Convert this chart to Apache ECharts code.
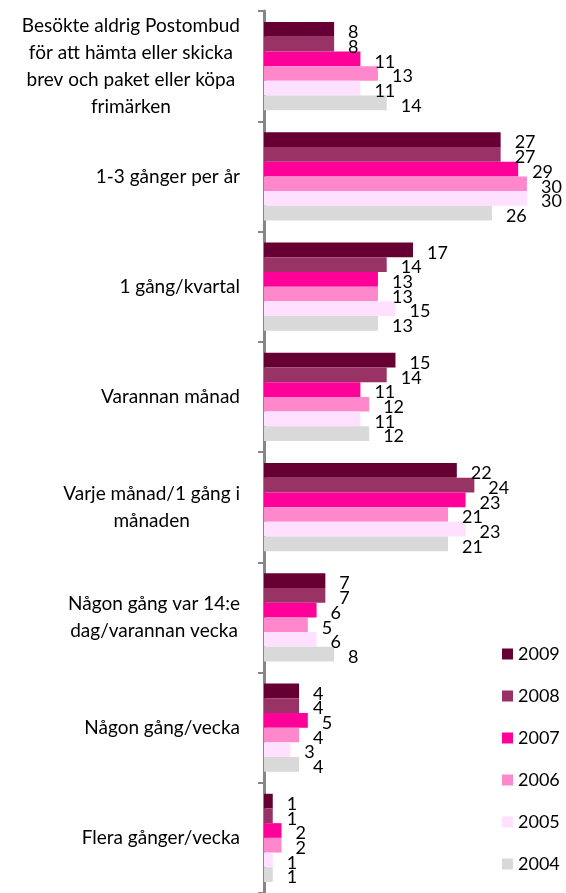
<!DOCTYPE html>
<html lang="sv">

<head>
    <meta charset="UTF-8">
    <script src="https://cdn.jsdelivr.net/npm/echarts@6/dist/echarts.min.js"></script>
    <title>Postombud</title>
    <style>
        html, body { margin: 0; padding: 0; background: #fff; }
        #myChart { width: 566px; height: 893px; }
    </style>
</head>

<body>
    <div id="myChart"></div>
    <script>
        // categories, top to bottom
        var categories = [
            'Besökte aldrig Postombud\nför att hämta eller skicka\nbrev och paket eller köpa\nfrimärken',
            '1-3 gånger per år',
            '1 gång/kvartal',
            'Varannan månad',
            'Varje månad/1 gång i\nmånaden',
            'Någon gång var 14:e\ndag/varannan vecka',
            'Någon gång/vecka',
            'Flera gånger/vecka'
        ];
        var years = ['2009', '2008', '2007', '2006', '2005', '2004'];
        var v2009 = [8, 27, 17, 15, 22, 7, 4, 1];
        var v2008 = [8, 27, 14, 14, 24, 7, 4, 1];
        var v2007 = [11, 29, 13, 11, 23, 6, 5, 2];
        var v2006 = [13, 30, 13, 12, 21, 5, 4, 2];
        var v2005 = [11, 30, 15, 11, 23, 6, 3, 1];
        var v2004 = [14, 26, 13, 12, 21, 8, 4, 1];
        var colors = ['#660033', '#993366', '#ff0099', '#ff88cc', '#ffe1ff', '#d9d9d9'];

        var values = [v2009, v2008, v2007, v2006, v2005, v2004];
        var font = 'Lato';

        var series = years.map(function (y, i) {
            return {
                name: y,
                type: 'bar',
                data: values[i],
                barGap: '0%',
                barCategoryGap: '20%',
                itemStyle: { color: colors[i] },
                label: {
                    show: true,
                    position: 'right',
                    distance: 14,
                    offset: [0, 3],
                    color: '#000',
                    fontFamily: font,
                    fontSize: 18
                },
                animation: false
            };
        });

        var myChart = echarts.init(document.getElementById('myChart'));
        var option = {
            animation: false,
            textStyle: { fontFamily: font },
            // plot runs a little past the bottom edge, as in the original
            grid: { left: 264, right: 4, top: 11, height: 888, containLabel: false },
            legend: {
                orient: 'vertical',
                left: 497,
                top: 640,
                itemWidth: 11,
                itemHeight: 11,
                itemGap: 24,
                icon: 'rect',
                textStyle: { fontFamily: font, fontSize: 18, lineHeight: 18, color: '#000' },
                data: years
            },
            xAxis: {
                type: 'value',
                min: 0,
                max: 34,
                show: false
            },
            yAxis: {
                type: 'category',
                inverse: true,
                data: categories,
                axisLine: { lineStyle: { color: '#868686', width: 3 } },
                axisTick: { show: true, length: 6, lineStyle: { color: '#868686', width: 2 } },
                axisLabel: {
                    align: 'right',
                    margin: 24,
                    color: '#000',
                    fontFamily: font,
                    fontSize: 19,
                    lineHeight: 27,
                    // block right-aligned, each line centred inside it (like Excel)
                    formatter: function (val) {
                        return val.split('\n').map(function (s) {
                            return '{c|' + s + '}';
                        }).join('\n');
                    },
                    rich: {
                        c: {
                            align: 'center',
                            color: '#000',
                            fontFamily: font,
                            fontSize: 19,
                            lineHeight: 27
                        }
                    }
                }
            },
            series: series
        };
        myChart.setOption(option);
    </script>
</body>

</html>
